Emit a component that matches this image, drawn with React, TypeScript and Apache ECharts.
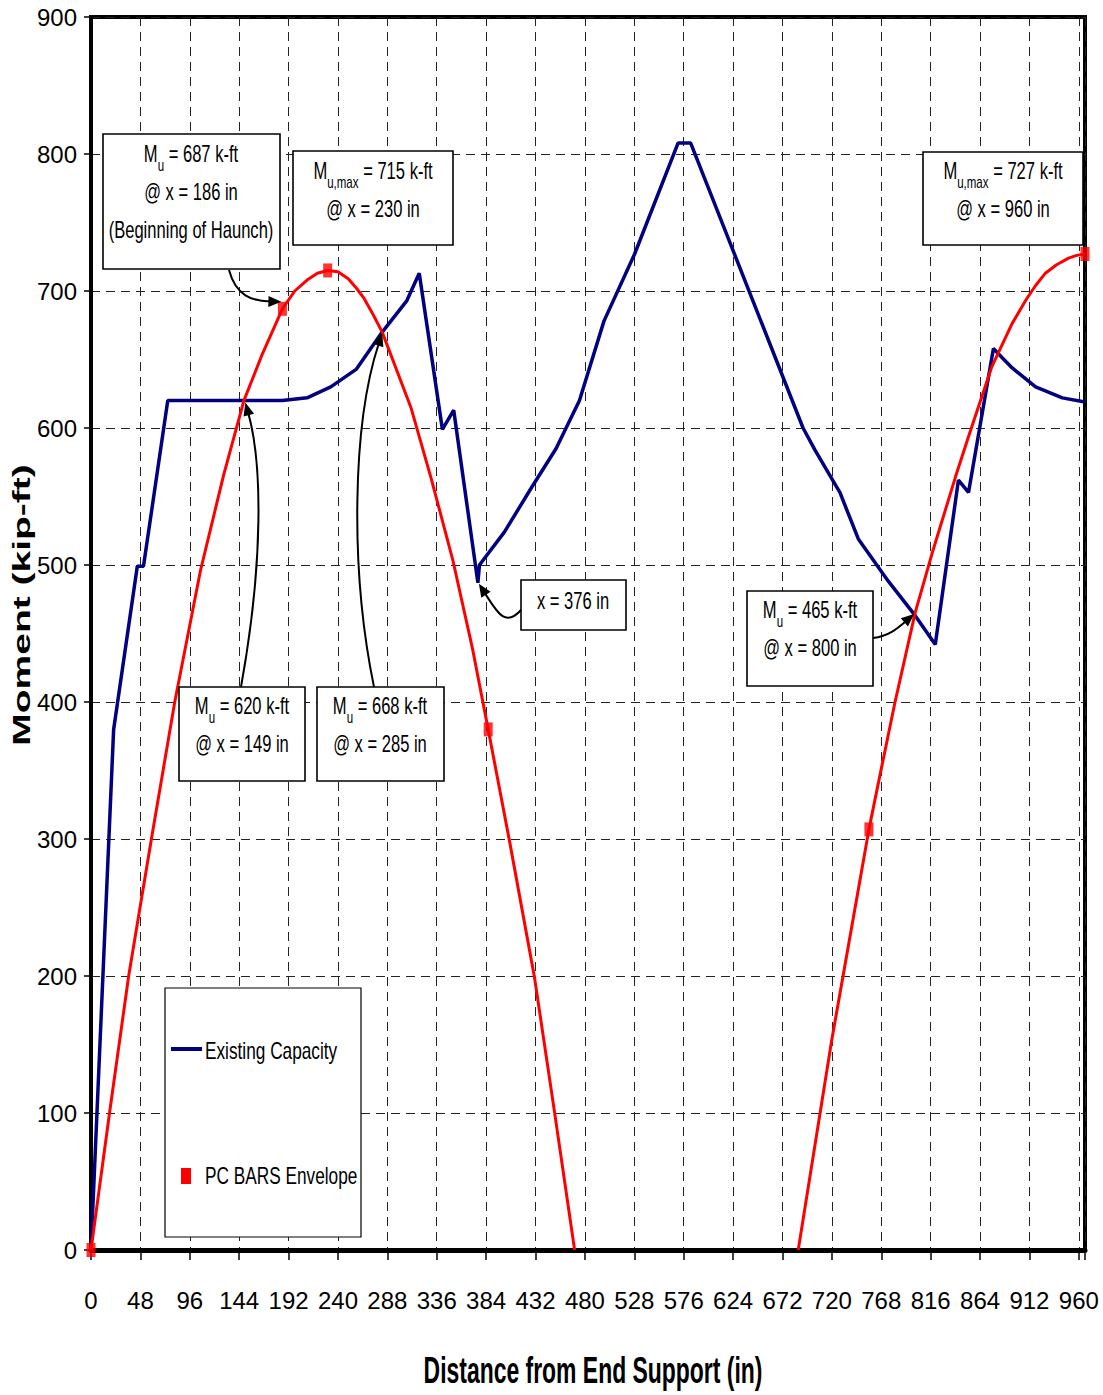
import React, { useEffect, useRef } from 'react';
import * as echarts from 'echarts';

// ---------------- data ----------------
const xTicks = [0, 48, 96, 144, 192, 240, 288, 336, 384, 432, 480, 528, 576, 624, 672, 720, 768, 816, 864, 912, 960];
const yTicks = [0, 100, 200, 300, 400, 500, 600, 700, 800, 900];

// Existing Capacity (kip-ft) vs distance (in)
const capacityX = [0, 22, 45, 51, 74.6, 186, 210, 233, 258, 283, 307, 319, 341.5, 352.5, 376, 377.5, 401.7, 427.7, 452, 474.7, 498.5, 528.3, 570.5, 582.8, 692, 703.5, 724.6, 727.8, 745.7, 775, 801, 820.5, 843, 852.8, 877, 882, 895, 918, 944, 966];
const capacityY = [0, 380, 499, 499, 620, 620, 622, 630, 643, 670, 693, 713, 599, 613, 487, 500, 524, 556, 585, 620, 678, 727, 808, 808, 600, 584, 557, 553, 519, 488, 463, 442, 562, 553, 658, 654, 644, 630, 622, 619];

// Factored moment envelope curve (span 1 and span 2)
const envelope1X = [0, 18, 36.6, 58.7, 81.4, 106.4, 129, 148.6, 166.5, 186, 198, 210, 220, 230, 240, 250, 258, 265, 274, 283, 310.9, 330.3, 351.5, 371, 386, 406.6, 431, 450.4, 470];
const envelope1Y = [0, 100, 200, 300, 400, 496, 566, 620, 654, 687, 700, 708, 713, 715, 714, 709, 702, 695, 683, 670, 615, 564, 504, 438, 380, 299, 199, 101, 0];
const envelope2X = [687.3, 719.8, 731.1, 756, 768.5, 781.4, 800.9, 817.2, 840, 852.9, 875.6, 895, 909, 918, 927.5, 938, 950, 958, 966];
const envelope2Y = [0, 153, 201, 307, 353, 400, 465, 508, 564, 594, 645, 676, 694, 704, 713, 719, 724, 726, 727];

// PC BARS Envelope points
const pcBarsX = [0, 186, 230, 386, 756, 966];
const pcBarsY = [0, 687, 715, 380, 307, 727];

const seriesNames = ['Existing Capacity', 'PC BARS Envelope'];
const xTitle = 'Distance from End Support (in)';
const yTitle = 'Moment (kip-ft)';

// ---------------- styling ----------------
const SANS = "'Liberation Sans', Arial, sans-serif";
const SQ = 0.72; // horizontal squeeze of the reference lettering
const BLUE = '#000080';
const RED = '#ff0000';

const zip = (xs: number[], ys: number[]) => xs.map((x, i) => [x, ys[i]]);

const richStyles = {
  m: { fontSize: 23, fontFamily: SANS, lineHeight: 38, color: '#000' },
  s: { fontSize: 16, fontFamily: SANS, lineHeight: 24, verticalAlign: 'bottom', color: '#000' },
};

function textBox(cx: number, cy: number, text: string) {
  return {
    type: 'text',
    x: cx,
    y: cy,
    scaleX: SQ,
    z: 110,
    style: {
      text,
      align: 'center',
      verticalAlign: 'middle',
      textAlign: 'center',
      textVerticalAlign: 'middle',
      fill: '#000',
      rich: richStyles,
    },
  };
}

function box(x: number, y: number, w: number, h: number) {
  return {
    type: 'rect',
    z: 105,
    shape: { x, y, width: w, height: h },
    style: { fill: '#fff', stroke: '#000', lineWidth: 1.6 },
  };
}

function arrow(p0: number[], c1: number[], c2: number[], tip: number[]) {
  const dx = tip[0] - c2[0];
  const dy = tip[1] - c2[1];
  const L = Math.hypot(dx, dy) || 1;
  const ux = dx / L;
  const uy = dy / L;
  const hl = 13;
  const hw = 5.5;
  const bx = tip[0] - ux * hl;
  const by = tip[1] - uy * hl;
  return [
    {
      type: 'bezierCurve',
      z: 108,
      shape: { x1: p0[0], y1: p0[1], cpx1: c1[0], cpy1: c1[1], cpx2: c2[0], cpy2: c2[1], x2: bx + ux * 2, y2: by + uy * 2 },
      style: { stroke: '#000', lineWidth: 2, fill: null },
    },
    {
      type: 'polygon',
      z: 108,
      shape: { points: [tip, [bx - uy * hw, by + ux * hw], [bx + uy * hw, by - ux * hw]] },
      style: { fill: '#000' },
    },
  ];
}

export default function App() {
  const ref = useRef<HTMLDivElement>(null);

  useEffect(() => {
    const el = ref.current;
    if (!el) return;
    const chart = echarts.init(el, null, { renderer: 'svg' });

    const option: any = {
      animation: false,
      backgroundColor: '#ffffff',
      legend: { show: false },
      grid: {
        left: 91,
        top: 17,
        width: 994,
        height: 1233,
        show: true,
        borderColor: '#000',
        borderWidth: 4,
        backgroundColor: 'transparent',
      },
      xAxis: {
        type: 'value',
        min: 0,
        max: 966,
        interval: 48,
        axisLine: { show: true, onZero: false, lineStyle: { color: '#000', width: 5 } },
        axisTick: { show: true, inside: false, length: 10, lineStyle: { color: '#000', width: 1.5 } },
        axisLabel: {
          margin: 38,
          fontSize: 24,
          fontFamily: SANS,
          color: '#000',
          formatter: (v: number) => (xTicks.indexOf(v) >= 0 ? String(v) : ''),
        },
        splitLine: { show: true, lineStyle: { color: '#222', width: 1, type: [9, 6] } },
      },
      yAxis: {
        type: 'value',
        min: 0,
        max: 900,
        interval: 100,
        axisLine: { show: true, onZero: false, lineStyle: { color: '#000', width: 3 } },
        axisTick: { show: true, inside: false, length: 7, lineStyle: { color: '#000', width: 1.5 } },
        axisLabel: {
          margin: 14,
          fontSize: 24,
          fontFamily: SANS,
          color: '#000',
          formatter: (v: number) => (yTicks.indexOf(v) >= 0 ? String(v) : ''),
        },
        splitLine: { show: true, lineStyle: { color: '#222', width: 1, type: [9, 6] } },
      },
      series: [
        {
          name: seriesNames[0],
          type: 'line',
          data: zip(capacityX, capacityY),
          symbol: 'none',
          lineStyle: { color: BLUE, width: 3.5 },
          itemStyle: { color: BLUE },
          z: 3,
        },
        {
          name: 'Envelope span 1',
          type: 'line',
          data: zip(envelope1X, envelope1Y),
          symbol: 'none',
          lineStyle: { color: RED, width: 3 },
          itemStyle: { color: RED },
          z: 4,
        },
        {
          name: 'Envelope span 2',
          type: 'line',
          data: zip(envelope2X, envelope2Y),
          symbol: 'none',
          lineStyle: { color: RED, width: 3 },
          itemStyle: { color: RED },
          z: 4,
        },
        {
          name: seriesNames[1],
          type: 'scatter',
          data: zip(pcBarsX, pcBarsY),
          symbol: 'rect',
          symbolSize: [9, 14],
          itemStyle: { color: RED },
          clip: false,
          z: 5,
        },
      ],
    };
    chart.setOption(option);

    const P = (x: number, y: number) => chart.convertToPixel({ gridIndex: 0 }, [x, y]) as number[];
    const tipA = P(186, 687);
    const tipD = P(149, 620);
    const tipE = P(283, 670);
    const tipF = P(376, 487);
    const tipG = P(800, 465);

    const elements: any[] = [
      // annotation boxes
      box(103, 134, 177, 135),
      textBox(191, 192, '{m|M}{s|u}{m| = 687 k-ft}\n{m|@ x = 186 in}\n{m|(Beginning of Haunch)}'),
      box(293, 151, 160, 94),
      textBox(373, 190, '{m|M}{s|u,max}{m| = 715 k-ft}\n{m|@ x = 230 in}'),
      box(923, 152, 160, 93),
      textBox(1003, 190, '{m|M}{s|u,max}{m| = 727 k-ft}\n{m|@ x = 960 in}'),
      box(179, 687, 126, 94),
      textBox(242, 725, '{m|M}{s|u}{m| = 620 k-ft}\n{m|@ x = 149 in}'),
      box(317, 687, 127, 94),
      textBox(380, 725, '{m|M}{s|u}{m| = 668 k-ft}\n{m|@ x = 285 in}'),
      box(521, 580, 105, 50),
      textBox(573, 601, '{m|x = 376 in}'),
      box(747, 591, 126, 95),
      textBox(810, 629, '{m|M}{s|u}{m| = 465 k-ft}\n{m|@ x = 800 in}'),
      // arrows
      ...arrow([229, 270], [236, 296], [252, 301], [tipA[0] - 1, tipA[1] - 7]),
      ...arrow([241, 687], [264, 560], [262, 462], [tipD[0] + 1, tipD[1] + 2]),
      ...arrow([374, 687], [350, 570], [352, 425], [tipE[0], tipE[1] + 1]),
      ...arrow([521, 610], [505, 628], [497, 612], [tipF[0] + 1, tipF[1] + 1]),
      ...arrow([873, 638], [889, 636], [898, 628], [tipG[0], tipG[1] + 1]),
      // legend
      { type: 'rect', z: 105, shape: { x: 165, y: 988, width: 196, height: 249 }, style: { fill: '#fff', stroke: '#000', lineWidth: 1.2 } },
      { type: 'line', z: 110, shape: { x1: 171, y1: 1049, x2: 202, y2: 1049 }, style: { stroke: BLUE, lineWidth: 4 } },
      {
        type: 'text', z: 110, x: 205, y: 1051, scaleX: 0.75,
        style: { text: seriesNames[0], fontSize: 23, fontFamily: SANS, fill: '#000', align: 'left', verticalAlign: 'middle', textAlign: 'left', textVerticalAlign: 'middle' },
      },
      { type: 'rect', z: 110, shape: { x: 181, y: 1168, width: 10, height: 16 }, style: { fill: RED } },
      {
        type: 'text', z: 110, x: 205, y: 1176, scaleX: 0.75,
        style: { text: seriesNames[1], fontSize: 23, fontFamily: SANS, fill: '#000', align: 'left', verticalAlign: 'middle', textAlign: 'left', textVerticalAlign: 'middle' },
      },
      // axis titles
      {
        type: 'text', z: 110, x: 593, y: 1370, scaleX: 0.62,
        style: { text: xTitle, fontSize: 37, fontWeight: 'bold', fontFamily: SANS, fill: '#000', align: 'center', verticalAlign: 'middle', textAlign: 'center', textVerticalAlign: 'middle' },
      },
      {
        type: 'text', z: 110, x: 22, y: 605, rotation: Math.PI / 2, scaleY: 0.62,
        style: { text: yTitle, fontSize: 39, fontWeight: 'bold', fontFamily: SANS, fill: '#000', align: 'center', verticalAlign: 'middle', textAlign: 'center', textVerticalAlign: 'middle' },
      },
    ];

    chart.setOption({ graphic: { elements } });

    return () => {
      chart.dispose();
    };
  }, []);

  return (
    <div
      ref={ref}
      style={{ position: 'fixed', left: 0, top: 0, width: 1103, height: 1395, background: '#fff' }}
    />
  );
}
